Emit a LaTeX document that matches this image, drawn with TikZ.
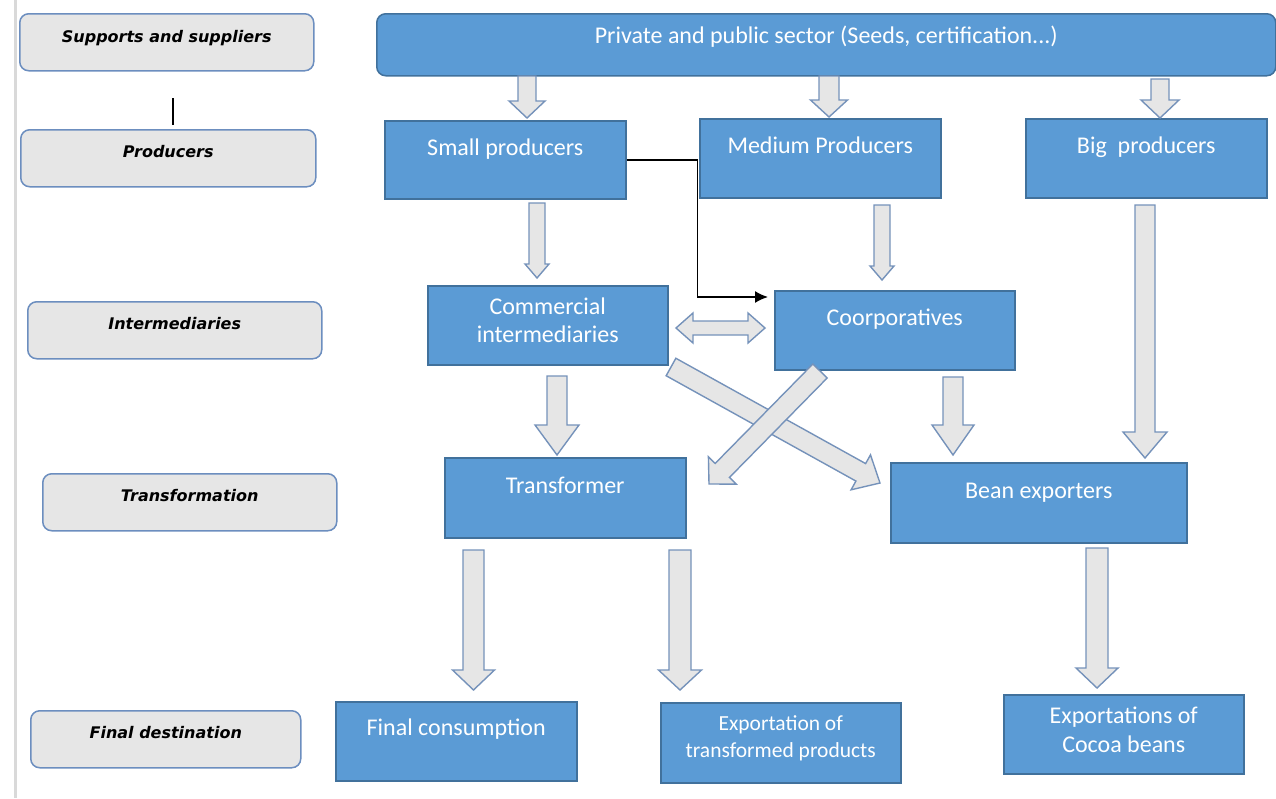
\documentclass[tikz,border=0pt]{standalone}
\usepackage{fontspec}
\setmainfont{Carlito}
\newfontfamily\lblfont{DejaVu Sans}
\usetikzlibrary{calc,arrows.meta}

\definecolor{boxblue}{HTML}{5B9BD5}
\definecolor{boxedge}{HTML}{41719C}
\definecolor{lblfill}{HTML}{E6E6E6}
\definecolor{lbledge}{HTML}{6C8EBF}
\definecolor{arrfill}{HTML}{E6E6E6}
\definecolor{arredge}{HTML}{7592BA}
\definecolor{pageline}{HTML}{D9D9D9}

% outlined block arrow: start, tip, shaft half width, head half width, head length
\newcommand\blockarrow[5]{%
  \coordinate (bahead) at ($(#2)!#5!(#1)$);
  \draw[arrowbody] ($(#1)!#3!90:(#2)$) -- ($(bahead)!#3!90:(#2)$)
    -- ($(bahead)!#4!90:(#2)$) -- (#2) -- ($(bahead)!#4!-90:(#2)$)
    -- ($(bahead)!#3!-90:(#2)$) -- ($(#1)!#3!-90:(#2)$) -- cycle;}

% outlined double-headed block arrow
\newcommand\doubleblockarrow[5]{%
  \coordinate (dbha) at ($(#1)!#5!(#2)$);
  \coordinate (dbhb) at ($(#2)!#5!(#1)$);
  \draw[arrowbody] (#1) -- ($(dbha)!#4!90:(#2)$) -- ($(dbha)!#3!90:(#2)$)
    -- ($(dbhb)!#3!90:(#2)$) -- ($(dbhb)!#4!90:(#2)$) -- (#2)
    -- ($(dbhb)!#4!-90:(#2)$) -- ($(dbhb)!#3!-90:(#2)$)
    -- ($(dbha)!#3!-90:(#2)$) -- ($(dbha)!#4!-90:(#2)$) -- cycle;}

\tikzset{
  arrowbody/.style={draw=arredge, fill=arrfill, line width=1.4pt, line join=miter},
  levelbox/.style={draw=lbledge, fill=lblfill, line width=1.5pt, rounded corners=9pt,
    anchor=north west, inner sep=0pt, align=center,
    font=\lblfont\bfseries\itshape\fontsize{16}{20}\selectfont},
  actorbox/.style={draw=boxedge, fill=boxblue, line width=1.5pt, text=white,
    anchor=north west, inner sep=0pt, align=center,
    font=\fontsize{24}{28}\selectfont},
  conn/.style={draw=black, line width=1.6pt, -{Latex[length=13pt,width=12pt]}},
}

\begin{document}
\begin{tikzpicture}[x=1pt, y=-1pt]
\useasboundingbox (0,0) rectangle (1276,798);

% page edge
\draw[pageline, line width=3pt] (15.5,0) -- (15.5,798);

% value chain levels
\node[levelbox, minimum width=294pt, text height=29pt, text depth=28pt] (sup)   at (19,13)  {Supports and suppliers};
\node[levelbox, minimum width=295pt, text height=28pt, text depth=29pt] (prodL) at (20,129) {Producers};
\node[levelbox, minimum width=294pt, text height=28pt, text depth=29pt] (intL)  at (27,301) {Intermediaries};
\node[levelbox, minimum width=294pt, text height=28pt, text depth=29pt] (trL)   at (42,473) {Transformation};
\node[levelbox, minimum width=270pt, text height=28pt, text depth=29pt] (finL)  at (30,710) {Final destination};

\coordinate (tickA) at (173,98);
\coordinate (tickB) at (173,125);
\draw[line width=1.5pt] (tickA) -- (tickB);

% actors (for two-line labels the height is taken to the last baseline)
\node[actorbox, rounded corners=9pt, minimum width=899pt, text height=30pt, text depth=32pt] (priv) at (376,13)
  {Private and public sector (Seeds, certification...)};
\node[actorbox, minimum width=241pt, text height=35pt, text depth=43pt] (small) at (384,120) {Small producers};
\node[actorbox, minimum width=241pt, text height=35pt, text depth=44pt] (medium) at (699,118) {Medium Producers};
\node[actorbox, minimum width=241pt, text height=35pt, text depth=44pt] (big) at (1025,118) {Big \ producers};
\node[actorbox, minimum width=240pt, text height=57pt, text depth=22pt] (comm) at (427,285) {Commercial\\intermediaries};
\node[actorbox, minimum width=240pt, text height=35pt, text depth=44pt] (coop) at (774,290) {Coorporatives};
\node[actorbox, minimum width=241pt, text height=36pt, text depth=44pt] (trans) at (444,457) {Transformer};
\node[actorbox, minimum width=296pt, text height=36pt, text depth=44pt] (bean) at (890,462) {Bean exporters};
\node[actorbox, minimum width=241pt, text height=34pt, text depth=45pt] (fincons) at (335,701) {Final consumption};
\node[actorbox, minimum width=240pt, text height=55pt, text depth=25pt,
      font=\fontsize{21.5}{27}\selectfont] (exptr) at (660,702) {Exportation of\\transformed products};
\node[actorbox, minimum width=240pt, text height=58pt, text depth=21pt,
      font=\fontsize{24}{29}\selectfont] (cocoa) at (1003,694) {Exportations of\\Cocoa beans};

% flow arrows
\coordinate (a1s) at (527,76);    \coordinate (a1e) at (527,118);
\coordinate (a2s) at (829,76);    \coordinate (a2e) at (829,117);
\coordinate (a3s) at (1160,79);   \coordinate (a3e) at (1160,118);
\coordinate (a4s) at (537,203);   \coordinate (a4e) at (537,278);
\coordinate (a5s) at (882,205);   \coordinate (a5e) at (882,280);
\coordinate (a6s) at (1145,205);  \coordinate (a6e) at (1145,458);
\coordinate (a7s) at (557,376);   \coordinate (a7e) at (557,455);
\coordinate (a8s) at (953,377);   \coordinate (a8e) at (953,455);
\coordinate (a9s) at (473.5,550); \coordinate (a9e) at (473.5,690);
\coordinate (a10s) at (680,550);  \coordinate (a10e) at (680,690);
\coordinate (a11s) at (1097,548); \coordinate (a11e) at (1097,688);
\coordinate (a12s) at (676,328);  \coordinate (a12e) at (765,328);
\coordinate (a13s) at (671,367);  \coordinate (a13e) at (880,483);
\coordinate (a14s) at (820,371);  \coordinate (a14e) at (709,484);

\blockarrow{a1s}{a1e}{9pt}{18pt}{17pt}
\blockarrow{a2s}{a2e}{10pt}{18.5pt}{17pt}
\blockarrow{a3s}{a3e}{9pt}{19pt}{18pt}
\blockarrow{a4s}{a4e}{8pt}{12pt}{14pt}
\blockarrow{a5s}{a5e}{8pt}{12pt}{14pt}
\blockarrow{a6s}{a6e}{10pt}{22pt}{26pt}
\blockarrow{a7s}{a7e}{10pt}{22pt}{30pt}
\blockarrow{a8s}{a8e}{10pt}{21pt}{30pt}
\blockarrow{a9s}{a9e}{10.5pt}{21pt}{20pt}
\blockarrow{a10s}{a10e}{11pt}{21.5pt}{20pt}
\blockarrow{a11s}{a11e}{11pt}{21pt}{20pt}
\doubleblockarrow{a12s}{a12e}{7pt}{15pt}{17pt}
\blockarrow{a13s}{a13e}{10pt}{20pt}{22pt}
\blockarrow{a14s}{a14e}{10pt}{19.5pt}{19pt}

% small producers also sell to cooperatives
\draw[conn, shorten >=6pt] (small.east) -- ++(71,0) |- ([yshift=-7pt]coop.north west);

\end{tikzpicture}
\end{document}
